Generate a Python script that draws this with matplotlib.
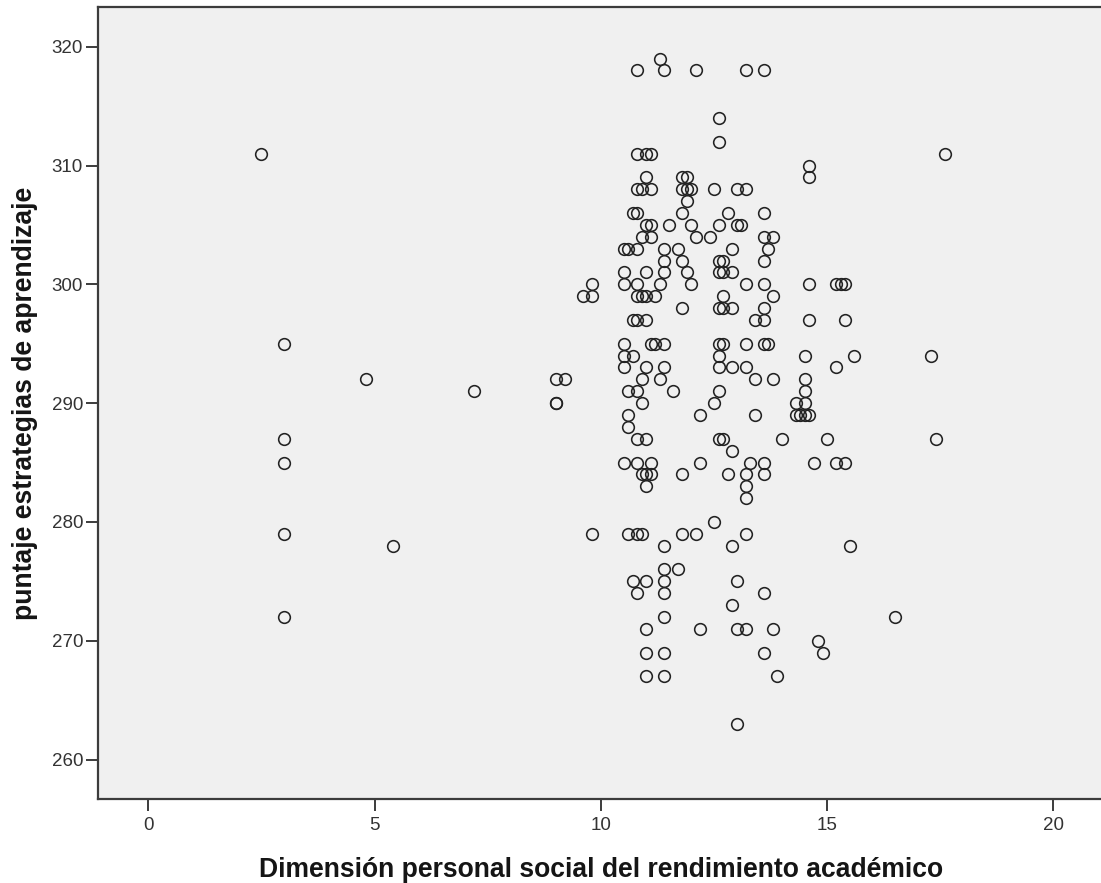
import matplotlib
matplotlib.use("Agg")
import matplotlib.pyplot as plt

# ---- data ----
x_values = [
    2.5, 3.0, 3.0, 3.0, 3.0, 3.0, 4.8, 5.4, 7.2, 9.0, 9.2, 9.0, 9.0, 9.6, 9.8, 9.8, 9.8,
    11.3,
    10.8, 11.4, 12.1, 13.2, 13.6,
    12.6,
    12.6,
    10.8, 11.0, 11.1, 17.6,
    14.6,
    11.0, 11.8, 11.9, 14.6,
    10.8, 10.9, 11.1, 11.8, 11.9, 12.0, 12.5, 13.0, 13.2,
    11.9,
    10.7, 10.8, 11.8, 12.8, 13.6,
    11.0, 11.1, 11.5, 12.0, 12.6, 13.0, 13.1,
    10.9, 11.1, 12.1, 12.4, 13.6, 13.8,
    10.5, 10.6, 10.8, 11.4, 11.7, 12.9, 13.7,
    11.4, 11.8, 12.6, 12.7, 13.6,
    10.5, 11.0, 11.4, 11.9, 12.6, 12.7, 12.9,
    10.5, 10.8, 11.3, 12.0, 13.2, 13.6, 14.6, 15.2, 15.3, 15.4,
    10.8, 10.9, 11.0, 11.2, 12.7, 13.8,
    11.8, 12.6, 12.7, 12.9, 13.6,
    10.7, 10.8, 11.0, 13.4, 13.6, 14.6, 15.4,
    10.5, 11.1, 11.2, 11.4, 12.6, 12.7, 13.2, 13.6, 13.7,
    10.5, 10.7, 12.6, 14.5, 15.6, 17.3,
    10.5, 11.0, 11.4, 12.6, 12.9, 13.2, 15.2,
    10.9, 11.3, 13.4, 13.8, 14.5,
    10.6, 10.8, 11.6, 12.6, 14.5,
    10.9, 12.5, 14.3, 14.5,
    10.6, 12.2, 13.4, 14.3, 14.4, 14.5, 14.6,
    10.6,
    10.8, 11.0, 12.6, 12.7, 14.0, 15.0, 17.4,
    12.9,
    10.5, 10.8, 11.1, 12.2, 13.3, 13.6, 14.7, 15.2, 15.4,
    10.9, 11.0, 11.1, 11.8, 12.8, 13.2, 13.6,
    11.0, 13.2,
    13.2,
    12.5,
    10.6, 10.8, 10.9, 11.8, 12.1, 13.2,
    11.4, 12.9, 15.5,
    11.4, 11.7,
    10.7, 11.0, 11.4, 13.0,
    10.8, 11.4, 13.6,
    12.9,
    11.4, 16.5,
    11.0, 12.2, 13.0, 13.2, 13.8,
    14.8,
    11.0, 11.4, 13.6, 14.9,
    11.0, 11.4, 13.9,
    13.0,
]
y_values = [
    311, 295, 287, 285, 279, 272, 292, 278, 291, 292, 292, 290, 290, 299, 300, 299, 279,
    319,
    318, 318, 318, 318, 318,
    314,
    312,
    311, 311, 311, 311,
    310,
    309, 309, 309, 309,
    308, 308, 308, 308, 308, 308, 308, 308, 308,
    307,
    306, 306, 306, 306, 306,
    305, 305, 305, 305, 305, 305, 305,
    304, 304, 304, 304, 304, 304,
    303, 303, 303, 303, 303, 303, 303,
    302, 302, 302, 302, 302,
    301, 301, 301, 301, 301, 301, 301,
    300, 300, 300, 300, 300, 300, 300, 300, 300, 300,
    299, 299, 299, 299, 299, 299,
    298, 298, 298, 298, 298,
    297, 297, 297, 297, 297, 297, 297,
    295, 295, 295, 295, 295, 295, 295, 295, 295,
    294, 294, 294, 294, 294, 294,
    293, 293, 293, 293, 293, 293, 293,
    292, 292, 292, 292, 292,
    291, 291, 291, 291, 291,
    290, 290, 290, 290,
    289, 289, 289, 289, 289, 289, 289,
    288,
    287, 287, 287, 287, 287, 287, 287,
    286,
    285, 285, 285, 285, 285, 285, 285, 285, 285,
    284, 284, 284, 284, 284, 284, 284,
    283, 283,
    282,
    280,
    279, 279, 279, 279, 279, 279,
    278, 278, 278,
    276, 276,
    275, 275, 275, 275,
    274, 274, 274,
    273,
    272, 272,
    271, 271, 271, 271, 271,
    270,
    269, 269, 269, 269,
    267, 267, 267,
    263,
]
x_ticks = [0, 5, 10, 15, 20]
y_ticks = [260, 270, 280, 290, 300, 310, 320]
x_label = "Dimensión personal social del rendimiento académico"
y_label = "puntaje estrategias de aprendizaje"

plt.rcParams['font.family'] = ['Liberation Sans', 'DejaVu Sans']

W, H = 1101, 883
fig = plt.figure(figsize=(W / 100, H / 100), dpi=100)
fig.patch.set_facecolor('white')

left_px, right_px, top_px, bottom_px = 98.3, 1101, 6.7, 799.3
ax = fig.add_axes([left_px / W, 1 - bottom_px / H,
                   (right_px - left_px) / W, (bottom_px - top_px) / H])
ax.set_facecolor('#F0F0F0')

ax.plot(x_values, y_values, linestyle='none', marker='o', markersize=8.4,
        markerfacecolor='none', markeredgecolor='#222222', markeredgewidth=1.15)

ax.set_xlim(-1.105, 21.05)
ax.set_ylim(256.65, 323.37)
ax.set_xticks(x_ticks)
ax.set_yticks(y_ticks)

for side in ['left', 'bottom', 'top']:
    ax.spines[side].set_color('#3c3c3c')
    ax.spines[side].set_linewidth(1.6)
ax.spines['right'].set_visible(False)

ax.tick_params(axis='both', direction='out', length=8.5, width=1.4,
               color='#3c3c3c', labelsize=13.5, labelcolor='#333333')
ax.tick_params(axis='x', pad=4.5)
ax.tick_params(axis='y', pad=2.5)

fig.text(601.5 / W, 1 - 877 / H, x_label, ha='center', va='baseline',
         fontsize=19.1, fontweight='bold', color='#151515')
fig.text(32 / W, 1 - 403 / H, y_label, ha='center', va='baseline',
         rotation=90, rotation_mode='anchor',
         fontsize=19.1, fontweight='bold', color='#151515')

fig.savefig('out.png', dpi=100, facecolor='white')
